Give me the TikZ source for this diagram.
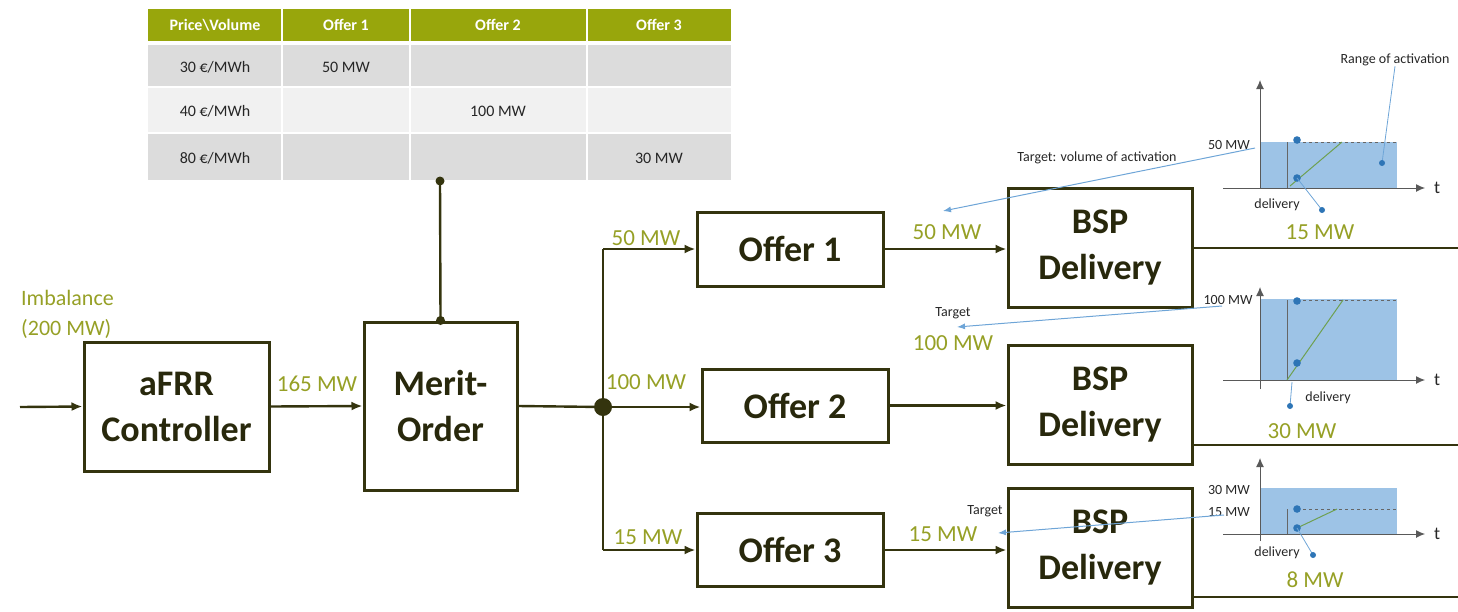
\documentclass[tikz,border=0pt]{standalone}
\usepackage{fontspec}
\setmainfont{Carlito}
\usetikzlibrary{arrows.meta}
\definecolor{boxline}{RGB}{52,52,14}
\definecolor{boxtext}{RGB}{40,40,12}
\definecolor{lblgreen}{RGB}{150,160,38}
\definecolor{hdrgreen}{RGB}{152,166,12}
\definecolor{rowdark}{RGB}{220,220,220}
\definecolor{rowlight}{RGB}{241,241,241}
\definecolor{chartfill}{RGB}{157,195,230}
\definecolor{dotblue}{RGB}{46,117,182}
\definecolor{tgtblue}{RGB}{110,165,215}
\definecolor{rampgreen}{RGB}{110,160,80}
\tikzset{
  blk/.style={draw=boxline, line width=3pt, align=center, text=boxtext,
    font=\fontsize{36}{46}\selectfont\bfseries, inner sep=0pt},
  conn/.style={draw=boxline, line width=2.4pt},
  flow/.style={conn, -{Latex[length=11pt,width=9pt]}},
  lbl/.style={text=lblgreen, font=\fontsize{23}{28}\selectfont, inner sep=0pt},
  thead/.style={text=white, font=\fontsize{16}{18}\selectfont\bfseries},
  tcell/.style={text=black!85, font=\fontsize{16}{18}\selectfont},
  note/.style={text=black!85, font=\fontsize{14}{16}\selectfont, inner sep=0pt},
  axis/.style={draw=black!65, line width=1pt},
  axarrow/.style={axis, -{Latex[length=9pt,width=8pt]}},
  tgt/.style={draw=tgtblue, line width=1pt, -{Latex[length=8pt,width=6pt]}},
  ptr/.style={draw=tgtblue, line width=0.8pt},
  bdot/.style={fill=dotblue},
}
\begin{document}
\begin{tikzpicture}[x=1pt,y=-1pt]
  \useasboundingbox (0,0) rectangle (1458,611);

  %%% merit order table
  \fill[hdrgreen] (148,9) rectangle (731,41);
  \fill[rowdark] (148,45) rectangle (731,87);
  \fill[rowlight] (148,87) rectangle (731,133);
  \fill[rowdark] (148,133) rectangle (731,180);
  \foreach \x in {282,410,587}
    \draw[white, line width=2pt] (\x,9) -- (\x,180);
  \draw[white, line width=1.5pt] (148,87) -- (731,87) (148,133) -- (731,133);

  \node[thead] (h0) at (215,25) {Price\textbackslash Volume};
  \node[thead] (h1) at (346,25) {Offer 1};
  \node[thead] (h2) at (498,25) {Offer 2};
  \node[thead] (h3) at (659,25) {Offer 3};
  \node[tcell] (p1) at (215,67) {30 €/MWh};
  \node[tcell] (p2) at (215,111) {40 €/MWh};
  \node[tcell] (p3) at (215,158) {80 €/MWh};
  \node[tcell] (v1) at (346,67) {50 MW};
  \node[tcell] (v2) at (498,111) {100 MW};
  \node[tcell] (v3) at (659,158) {30 MW};

  %%% blocks
  \node[blk, minimum width=185pt, minimum height=129pt] (ctrl) at (176.5,406.5) {aFRR\\Controller};
  \node[blk, minimum width=153pt, minimum height=168pt] (merit) at (440.5,406) {Merit-\\Order};
  \node[blk, minimum width=186pt, minimum height=74pt] (off1) at (790,249) {Offer 1};
  \node[blk, minimum width=186pt, minimum height=73pt] (off2) at (795,405.5) {Offer 2};
  \node[blk, minimum width=186pt, minimum height=73pt] (off3) at (790,550) {Offer 3};
  \node[blk, minimum width=184pt, minimum height=119pt] (bsp1) at (1100,247.5) {BSP\\Delivery};
  \node[blk, minimum width=184pt, minimum height=119pt] (bsp2) at (1100,405) {BSP\\Delivery};
  \node[blk, minimum width=184pt, minimum height=119pt] (bsp3) at (1100,548) {BSP\\Delivery};

  %%% connectors
  \coordinate (in) at (20,407);
  \coordinate (tbot) at (440,181);
  \node[circle, fill=boxline, minimum size=18pt, inner sep=0pt] (jn) at (603,407) {};
  \draw[flow] (in) -- (ctrl.west);
  \draw[flow] (ctrl.east) -- (merit.west);
  \draw[conn] (tbot) -- (merit.north);
  \fill[boxline] (tbot) circle (4.5pt) (merit.north) circle (4.5pt);
  \draw[conn] (merit.east) -- (jn);
  \draw[conn] (jn |- off1.west) -- (jn |- off3.west);
  \draw[flow] (jn |- off1.west) -- (off1.west);
  \draw[flow] (jn) -- (jn -| off2.west);
  \draw[flow] (jn |- off3.west) -- (off3.west);
  \draw[flow] (off1.east) -- (off1.east -| bsp1.west);
  \draw[flow] (off2.east) -- (off2.east -| bsp2.west);
  \draw[flow] (off3.east) -- (off3.east -| bsp3.west);
  \coordinate (out1) at (1458,248);
  \coordinate (out2) at (1458,445);
  \coordinate (out3) at (1458,597);
  \draw[conn] (bsp1.east |- out1) -- (out1);
  \draw[conn] (bsp2.east |- out2) -- (out2);
  \draw[conn] (bsp3.east |- out3) -- (out3);

  %%% green labels
  \node[lbl, align=left, anchor=west, font=\fontsize{22}{30}\selectfont] (imb) at (21,314) {Imbalance\\(200 MW)};
  \node[lbl] (l165) at (317,384) {165 MW};
  \node[lbl] (l50a) at (646,238) {50 MW};
  \node[lbl] (l100a) at (646,382) {100 MW};
  \node[lbl] (l15a) at (648,537) {15 MW};
  \node[lbl] (l50b) at (947,232) {50 MW};
  \node[lbl] (l100b) at (953,343) {100 MW};
  \node[lbl] (l15b) at (943,534) {15 MW};
  \node[lbl] (r15) at (1320,232) {15 MW};
  \node[lbl] (r30) at (1302,431) {30 MW};
  \node[lbl] (r8) at (1315,580) {8 MW};

  %%% chart 1
  \fill[chartfill] (1260,142) rectangle (1397,188);
  \draw[axarrow] (1260,188) -- (1260,80);
  \draw[axarrow] (1223,188) -- (1425,188);
  \draw[black!60, line width=0.8pt, dashed] (1297,142) -- (1397,142);
  \draw[black!60, line width=0.8pt] (1287,142) -- (1287,188);
  \draw[rampgreen, line width=1pt] (1290,186) -- (1342,142);
  \fill[bdot] (1297,140) circle (3.8pt) (1297,178) circle (3.8pt);
  \node[note, font=\fontsize{18}{20}\selectfont] (t1) at (1437,188) {t};
  \node[note] (m50) at (1229,145) {50 MW};
  \node[note] (d1) at (1277,205) {delivery};
  \node[note] (rng) at (1395,60) {Range of activation};
  \coordinate (rngdot) at (1382,163);
  \coordinate (d1dot) at (1322,210);
  \draw[ptr] (rng.south) -- (rngdot);
  \draw[ptr] (1297,178) -- (d1dot);
  \fill[bdot] (rngdot) circle (3pt) (d1dot) circle (3pt);
  \node[note] (tg1) at (1097,158) {Target: volume of activation};
  \coordinate (tip1) at (943,211);
  \draw[tgt] (1255,148) -- (tip1);

  %%% chart 2
  \fill[chartfill] (1260,299) rectangle (1397,380);
  \draw[axarrow] (1260,389) -- (1260,287);
  \draw[axarrow] (1223,380) -- (1425,380);
  \draw[black!60, line width=0.8pt, dashed] (1297,300) -- (1397,300);
  \draw[black!60, line width=0.8pt] (1287,300) -- (1287,380);
  \draw[rampgreen, line width=1pt] (1287,380) -- (1343,300);
  \fill[bdot] (1297,301) circle (3.8pt) (1297,363) circle (3.8pt);
  \node[note, font=\fontsize{18}{20}\selectfont] (t2) at (1437,380) {t};
  \node[note] (m100) at (1228,300) {100 MW};
  \node[note] (d2) at (1328,398) {delivery};
  \coordinate (d2dot) at (1290,406);
  \draw[ptr] (1292,382) -- (d2dot);
  \fill[bdot] (d2dot) circle (3pt);
  \node[note] (tg2) at (953,313) {Target};
  \coordinate (tip2) at (957,327);
  \draw[tgt] (1222,306) -- (tip2);

  %%% chart 3
  \fill[chartfill] (1260,488) rectangle (1397,534);
  \draw[axarrow] (1260,541) -- (1260,458);
  \draw[axarrow] (1223,534) -- (1425,534);
  \draw[black!60, line width=0.8pt, dashed] (1297,509) -- (1397,509);
  \draw[black!60, line width=0.8pt] (1287,509) -- (1287,534);
  \draw[rampgreen, line width=1pt] (1297,528) -- (1337,509);
  \fill[bdot] (1297,509) circle (3.8pt) (1297,528) circle (3.8pt);
  \node[note, font=\fontsize{18}{20}\selectfont] (t3) at (1437,534) {t};
  \node[note] (m30) at (1229,490) {30 MW};
  \node[note] (m15) at (1229,512) {15 MW};
  \node[note] (d3) at (1277,553) {delivery};
  \coordinate (d3dot) at (1313,555);
  \draw[ptr] (1297,528) -- (d3dot);
  \fill[bdot] (d3dot) circle (3pt);
  \node[note] (tg3) at (985,511) {Target};
  \coordinate (tip3) at (998,533);
  \draw[tgt] (1224,515) -- (tip3);
\end{tikzpicture}
\end{document}
